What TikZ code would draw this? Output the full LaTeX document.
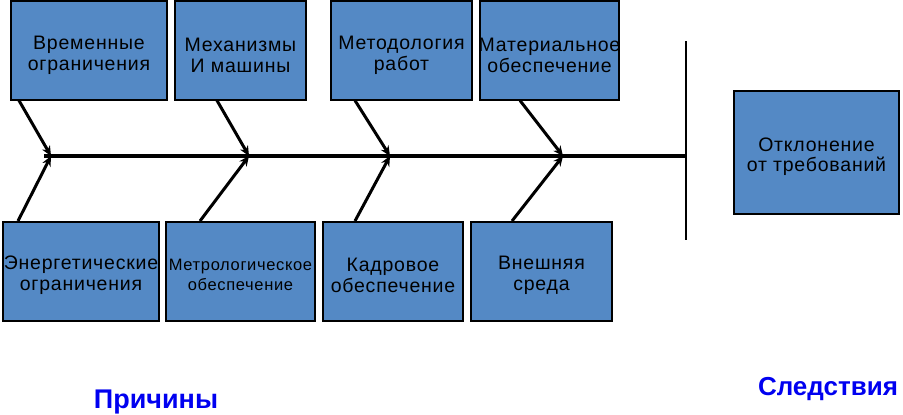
\documentclass[tikz,border=0pt]{standalone}
\usepackage{fontspec}
\setmainfont{Liberation Sans}
\newfontfamily\boxfont[LetterSpace=4]{Liberation Sans}
\usetikzlibrary{arrows.meta}
\definecolor{boxblue}{RGB}{84,137,197}
\definecolor{labblue}{RGB}{0,0,240}
\begin{document}
\begin{tikzpicture}[x=1pt,y=-1pt,
  cbox/.style={draw=black,line width=2pt,fill=boxblue,inner sep=0pt,minimum height=99pt},
  ctext/.style={inner sep=0pt,align=center,font=\boxfont\fontsize{19.5}{20.5}\selectfont},
  stext/.style={inner sep=0pt,align=center,font=\boxfont\fontsize{16.5}{20}\selectfont},
  arr/.style={line width=3pt,-{Stealth[length=10pt,width=9pt]}},
  lab/.style={text=labblue,font=\bfseries,anchor=base}]
\useasboundingbox (0,0) rectangle (903,415);
% top boxes
\node[cbox,minimum width=156pt] (b1) at (89,50) {};
\node[cbox,minimum width=131pt] (b2) at (240.5,50) {};
\node[cbox,minimum width=141pt] (b3) at (401.5,50) {};
\node[cbox,minimum width=139pt] (b4) at (549.5,50) {};
\node[ctext] (b1t) at ([yshift=-5.5pt]b1.center) {Временные\\ограничения};
\node[ctext] (b2t) at ([yshift=-5.5pt]b2.center) {Механизмы\\И машины};
\node[ctext] (b3t) at ([yshift=-5.5pt]b3.center) {Методология\\работ};
\node[ctext] (b4t) at ([yshift=-5.5pt]b4.center) {Материальное\\обеспечение};
% bottom boxes
\node[cbox,minimum width=156pt] (b5) at (81,271.5) {};
\node[cbox,minimum width=149pt] (b6) at (240.5,271.5) {};
\node[cbox,minimum width=140pt] (b7) at (393,271.5) {};
\node[cbox,minimum width=141pt] (b8) at (541.5,271.5) {};
\node[ctext] (b5t) at ([yshift=-3.5pt]b5.center) {Энергетические\\ограничения};
\node[stext] (b6t) at ([yshift=-3.5pt]b6.center) {Метрологическое\\обеспечение};
\node[ctext] (b7t) at ([yshift=-4pt]b7.center) {Кадровое\\обеспечение};
\node[ctext] (b8t) at ([yshift=-4pt]b8.center) {Внешняя\\среда};
% result box
\node[cbox,minimum width=165pt,minimum height=123pt] (res) at (816.5,152.5) {};
\node[ctext] (rest) at ([yshift=-4pt]res.center) {Отклонение\\от требований};
% spine
\coordinate (s0) at (44,156);
\coordinate (v0) at (686,41);
\coordinate (v1) at (686,240);
\coordinate (vm) at (686,156);
\coordinate (t1) at (51,156);
\coordinate (t2) at (249,156);
\coordinate (t3) at (390,156);
\coordinate (t4) at (563,156);
\draw[line width=3.2pt] (s0) -- (vm);
\draw[line width=2.6pt] (v0) -- (v1);
% arrows
\draw[arr] ([xshift=9pt]b1.south west) -- (t1);
\draw[arr] ([xshift=43pt]b2.south west) -- (t2);
\draw[arr] ([xshift=25pt]b3.south west) -- (t3);
\draw[arr] ([xshift=41pt]b4.south west) -- (t4);
\draw[arr] ([xshift=16pt]b5.north west) -- (t1);
\draw[arr] ([xshift=35pt]b6.north west) -- (t2);
\draw[arr] ([xshift=33pt]b7.north west) -- (t3);
\draw[arr] ([xshift=42pt]b8.north west) -- (t4);
% labels
\node[lab,font=\bfseries\fontsize{27}{30}\selectfont] (cause) at (156,408) {Причины};
\node[lab,font=\bfseries\fontsize{26}{30}\selectfont] (eff) at (828,395) {Следствия};
\end{tikzpicture}
\end{document}
